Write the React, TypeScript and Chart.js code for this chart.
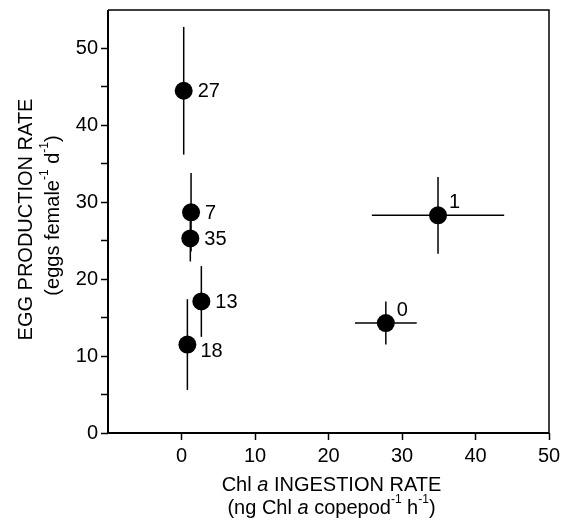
import React, { useEffect, useRef } from "react";
import { Chart, registerables } from "chart.js";

Chart.register(...registerables);

// Data
const stationLabels = ["27", "7", "35", "13", "18", "1", "0"];
const ingestionRate = [0.3, 1.3, 1.2, 2.7, 0.8, 34.9, 27.8];
const ingestionErr = [0, 0, 0, 0, 0, 9.0, 4.2];
const eggRate = [44.5, 28.7, 25.3, 17.1, 11.5, 28.3, 14.3];
const eggErr = [8.3, 5.1, 3.0, 4.6, 5.9, 5.0, 2.8];
const xTickValues = [0, 10, 20, 30, 40, 50];
const yTickValues = [0, 5, 10, 15, 20, 25, 30, 35, 40, 45, 50];

// label placement relative to point: "r" = right, "ur" = upper right, "dr" = lower right
const labelPlacement = ["r", "r", "r", "r", "dr", "ur", "ur"];

const FONT = '"Liberation Sans", Arial, Helvetica, sans-serif';
const zeroPadding = () => ({ left: 0, right: 0, top: 0, bottom: 0 });

type Seg = { t: string; i?: boolean; sup?: boolean };

function drawSegments(ctx: CanvasRenderingContext2D, segs: Seg[], cx: number, cy: number, size: number) {
  const supSize = Math.round(size * 0.62);
  const fontFor = (s: Seg) => `${s.i ? "italic " : ""}${s.sup ? supSize : size}px ${FONT}`;
  let total = 0;
  for (const s of segs) {
    ctx.font = fontFor(s);
    total += ctx.measureText(s.t).width;
  }
  let x = cx - total / 2;
  ctx.textAlign = "left";
  ctx.textBaseline = "middle";
  for (const s of segs) {
    ctx.font = fontFor(s);
    ctx.fillText(s.t, x, s.sup ? cy - size * 0.4 : cy);
    x += ctx.measureText(s.t).width;
  }
}

const decorPlugin = {
  id: "decor",
  beforeDatasetsDraw(chart: any) {
    const { ctx, scales } = chart;
    const xs = scales.x;
    const ys = scales.y;
    ctx.save();
    ctx.strokeStyle = "#000";
    ctx.lineWidth = 1.5;
    for (let i = 0; i < ingestionRate.length; i++) {
      const px = xs.getPixelForValue(ingestionRate[i]);
      const py = ys.getPixelForValue(eggRate[i]);
      if (eggErr[i] > 0) {
        ctx.beginPath();
        ctx.moveTo(px, ys.getPixelForValue(eggRate[i] - eggErr[i]));
        ctx.lineTo(px, ys.getPixelForValue(eggRate[i] + eggErr[i]));
        ctx.stroke();
      }
      if (ingestionErr[i] > 0) {
        ctx.beginPath();
        ctx.moveTo(xs.getPixelForValue(ingestionRate[i] - ingestionErr[i]), py);
        ctx.lineTo(xs.getPixelForValue(ingestionRate[i] + ingestionErr[i]), py);
        ctx.stroke();
      }
    }
    ctx.restore();
  },
  afterDatasetsDraw(chart: any) {
    const { ctx, scales } = chart;
    const xs = scales.x;
    const ys = scales.y;
    ctx.save();
    ctx.fillStyle = "#000";
    ctx.font = `20px ${FONT}`;
    ctx.textAlign = "left";
    ctx.textBaseline = "middle";
    for (let i = 0; i < stationLabels.length; i++) {
      const px = xs.getPixelForValue(ingestionRate[i]);
      const py = ys.getPixelForValue(eggRate[i]);
      const p = labelPlacement[i];
      const dx = p === "r" ? 14 : p === "dr" ? 13 : 11;
      const dy = p === "r" ? 1 : p === "dr" ? 7 : -13;
      ctx.fillText(stationLabels[i], px + dx, py + dy);
    }
    ctx.restore();
  },
  afterDraw(chart: any) {
    const { ctx, chartArea } = chart;
    const { left, right, top, bottom } = chartArea;
    ctx.save();
    ctx.strokeStyle = "#000";
    ctx.lineWidth = 2;
    ctx.beginPath();
    ctx.moveTo(left, top);
    ctx.lineTo(left, bottom);
    ctx.lineTo(right, bottom);
    ctx.stroke();
    ctx.lineWidth = 1.5;
    ctx.beginPath();
    ctx.moveTo(left, top);
    ctx.lineTo(right, top);
    ctx.lineTo(right, bottom);
    ctx.stroke();

    ctx.fillStyle = "#000";
    const midX = (left + right) / 2 + 3;
    drawSegments(ctx, [{ t: "Chl " }, { t: "a", i: true }, { t: " INGESTION RATE" }], midX, bottom + 52, 20);
    drawSegments(
      ctx,
      [
        { t: "(ng Chl " },
        { t: "a", i: true },
        { t: " copepod" },
        { t: "-1", sup: true },
        { t: " h" },
        { t: "-1", sup: true },
        { t: ")" },
      ],
      midX,
      bottom + 75,
      20
    );

    const midY = (top + bottom) / 2 - 2;
    ctx.translate(18, midY);
    ctx.rotate(-Math.PI / 2);
    drawSegments(ctx, [{ t: "EGG PRODUCTION RATE" }], 0, 0, 20);
    ctx.translate(4, 27);
    drawSegments(
      ctx,
      [{ t: "(eggs female" }, { t: "-1", sup: true }, { t: " d" }, { t: "-1", sup: true }, { t: ")" }],
      0,
      0,
      20
    );
    ctx.restore();
  },
};

export default function App() {
  const ref = useRef<HTMLCanvasElement | null>(null);
  useEffect(() => {
    if (!ref.current) return;
    const chart = new Chart(ref.current, {
      type: "scatter",
      data: {
        datasets: [
          {
            data: ingestionRate.map((x, i) => ({ x, y: eggRate[i] })),
            backgroundColor: "#000",
            borderWidth: 0,
            pointRadius: 9,
            pointHoverRadius: 9,
          },
        ],
      },
      options: {
        responsive: false,
        animation: false,
        devicePixelRatio: 1,
        layout: { autoPadding: false, padding: { left: 0, top: 2, right: 13, bottom: 0 } },
        plugins: { legend: { display: false }, tooltip: { enabled: false } },
        scales: {
          x: {
            type: "linear",
            min: -10,
            max: 50,
            afterBuildTicks: (scale: any) => {
              scale.ticks = xTickValues.map((v) => ({ value: v }));
            },
            afterFit: (scale: any) => {
              scale.height = 86;
              scale.paddingLeft = 0;
              scale.paddingRight = 0;
              scale.getPadding = zeroPadding;
            },
            ticks: {
              color: "#000",
              font: { size: 20, family: FONT },
              padding: 4,
              maxRotation: 0,
              callback: (v: any) => String(v),
            },
            grid: {
              drawOnChartArea: false,
              drawTicks: true,
              tickLength: 7,
              tickColor: "#000",
              tickWidth: 1.5,
            },
            border: { display: false },
          },
          y: {
            type: "linear",
            min: 0,
            max: 55,
            afterBuildTicks: (scale: any) => {
              scale.ticks = yTickValues.map((v) => ({ value: v }));
            },
            afterFit: (scale: any) => {
              scale.width = 100;
              scale.paddingTop = 0;
              scale.paddingBottom = 0;
              scale.getPadding = zeroPadding;
            },
            ticks: {
              color: "#000",
              font: { size: 20, family: FONT },
              padding: 3,
              callback: (v: any) => (Number(v) % 10 === 0 ? String(v) : ""),
            },
            grid: {
              drawOnChartArea: false,
              drawTicks: true,
              tickLength: 7,
              tickColor: "#000",
              tickWidth: 1.5,
            },
            border: { display: false },
          },
        },
      },
      plugins: [decorPlugin],
    });
    return () => chart.destroy();
  }, []);
  return (
    <div style={{ width: 554, height: 511 }}>
      <canvas ref={ref} width={554} height={511} style={{ width: 554, height: 511 }} />
    </div>
  );
}
